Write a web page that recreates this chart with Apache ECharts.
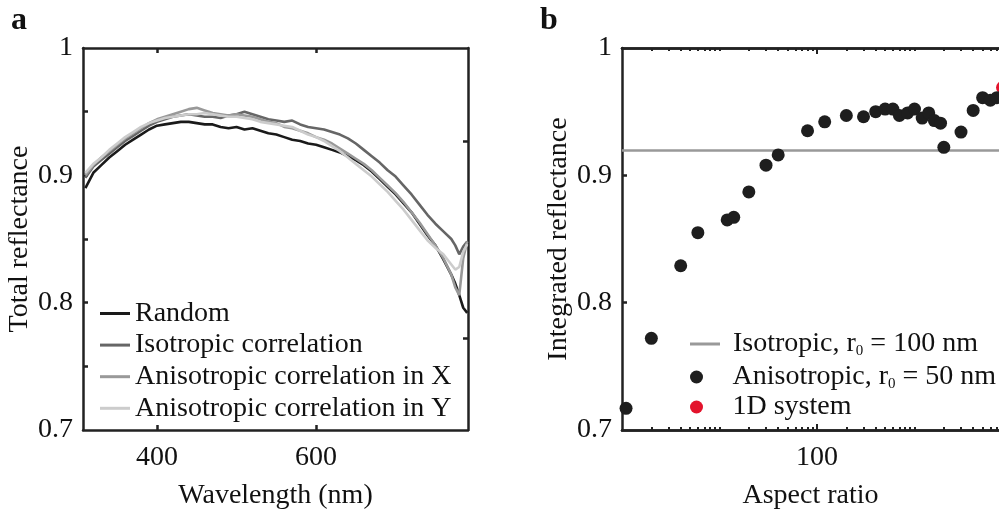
<!DOCTYPE html>
<html><head><meta charset="utf-8">
<script src="https://cdn.jsdelivr.net/npm/echarts@6/dist/echarts.min.js"></script>
<style>html,body{margin:0;padding:0;background:#fff;overflow:hidden;width:999px;height:515px}#c{width:999px;height:515px;overflow:hidden}</style>
</head><body><div id="c"></div>
<script>
// ---------- Panel a data ----------
const wavelengths = [310,320,330,340,350,360,370,380,390,400,410,420,430,440,450,460,470,480,490,500,510,520,530,540,550,560,570,580,590,600,610,620,630,640,650,660,670,680,690,700,710,720,730,740,750,760,770,775,780,785,790];
const randomR = [0.890,0.902,0.908,0.914,0.919,0.924,0.928,0.932,0.936,0.939,0.940,0.941,0.942,0.942,0.941,0.940,0.940,0.938,0.937,0.938,0.936,0.937,0.935,0.933,0.932,0.930,0.928,0.927,0.925,0.924,0.922,0.920,0.918,0.915,0.912,0.908,0.903,0.897,0.891,0.885,0.878,0.871,0.862,0.853,0.845,0.834,0.822,0.815,0.806,0.796,0.792];
const isotropicR = [0.898,0.907,0.912,0.917,0.922,0.927,0.931,0.935,0.939,0.942,0.944,0.946,0.947,0.948,0.947,0.946,0.946,0.945,0.947,0.948,0.950,0.948,0.946,0.944,0.943,0.942,0.943,0.940,0.938,0.937,0.936,0.934,0.932,0.929,0.925,0.920,0.915,0.910,0.904,0.899,0.892,0.885,0.877,0.869,0.862,0.856,0.850,0.845,0.838,0.844,0.848];
const anisoXR = [0.900,0.908,0.914,0.919,0.924,0.929,0.933,0.937,0.941,0.944,0.946,0.948,0.950,0.952,0.953,0.951,0.949,0.948,0.947,0.948,0.947,0.946,0.944,0.942,0.941,0.938,0.937,0.935,0.933,0.930,0.928,0.925,0.921,0.917,0.913,0.909,0.904,0.898,0.892,0.886,0.879,0.871,0.863,0.854,0.845,0.835,0.822,0.812,0.806,0.835,0.848];
const anisoYR = [0.902,0.909,0.914,0.920,0.925,0.930,0.934,0.938,0.941,0.943,0.945,0.946,0.947,0.948,0.948,0.949,0.948,0.947,0.946,0.946,0.945,0.944,0.942,0.941,0.940,0.939,0.938,0.935,0.932,0.930,0.927,0.923,0.919,0.914,0.909,0.904,0.899,0.893,0.887,0.880,0.873,0.865,0.857,0.849,0.843,0.838,0.830,0.826,0.828,0.840,0.846];
const seriesNamesA = ['Random','Isotropic correlation','Anisotropic correlation in X','Anisotropic correlation in Y'];
const waveTicks = [400, 600];
const reflLabels = [0.7, 0.8, 0.9, 1];

// ---------- Panel b data ----------
const aspectRatios = [1.1,2,4,6,12,14,20,30,40,80,120,200,300,400,500,600,700,850,1000,1200,1400,1600,1850,2000,3000,4000,5000,6000,7000];
const integratedR = [0.717,0.772,0.829,0.855,0.865,0.867,0.887,0.908,0.916,0.935,0.942,0.947,0.946,0.950,0.952,0.952,0.947,0.949,0.952,0.945,0.949,0.943,0.941,0.922,0.934,0.951,0.961,0.959,0.961];
const oneDAspect = [8000];
const oneDR = [0.969];
const isotropicLevel = 0.922;
const aspectLabels = [100];
const aspectMajor = [100];
const aspectMinor = [2,3,4,5,6,7,8,9,10,20,30,40,50,60,70,80,90,200,300,400,500,600,700,800,900,1000,2000,3000,4000,5000,6000,7000];
const aspectMin = 1;
const aspectMax = 7360; // visible right edge of panel b (cropped figure)

const FONT = 'Liberation Serif';
const FS = 28;
const AX = '#222';
const txt = {fontFamily: FONT, fontSize: FS, color: '#111'};
const linesColors = ['#1a1a1a', '#666666', '#999999', '#cccccc'];
const fmtR = v => (v === 1 ? '1' : v.toFixed(1));

function lineAxis(extra) {
  return Object.assign({
    axisLine: {show: true, onZero: false, lineStyle: {color: AX, width: 2.5}},
    splitLine: {show: false},
    axisTick: {show: false},
    axisLabel: {show: false}
  }, extra);
}

const chart = echarts.init(document.getElementById('c'), null, {renderer: 'canvas', width: 999, height: 515});
const seriesA = [randomR, isotropicR, anisoXR, anisoYR].map((arr, i) => ({
  name: seriesNamesA[i], type: 'line', xAxisIndex: 0, yAxisIndex: 0,
  data: wavelengths.map((w, k) => [w, arr[k]]),
  showSymbol: false, symbol: 'none', animation: false,
  lineStyle: {color: linesColors[i], width: 2.6}, itemStyle: {color: linesColors[i]}, z: 2 + i
}));

const subRich = {t: {...txt, lineHeight: 30}, s: {fontFamily: FONT, fontSize: 15, color: '#111', verticalAlign: 'bottom', lineHeight: 15}};

const option = {
  animation: false,
  backgroundColor: '#fff',
  grid: [
    {left: 83, top: 48, width: 385, height: 385},
    {left: 622, top: 48, right: 0, height: 385}
  ],
  xAxis: [
    lineAxis({gridIndex: 0, type: 'value', position: 'bottom', min: 307, max: 791,
      axisTick: {show: true, inside: true, length: 5, customValues: waveTicks, lineStyle: {color: AX, width: 2.5}},
      axisLabel: {show: true, customValues: waveTicks, margin: 14, ...txt},
      name: 'Wavelength (nm)', nameLocation: 'middle', nameGap: 52, nameTextStyle: txt}),
    lineAxis({gridIndex: 0, type: 'value', position: 'top', min: 307, max: 791,
      axisTick: {show: true, inside: true, length: 5, customValues: waveTicks, lineStyle: {color: AX, width: 2.5}}}),
    lineAxis({gridIndex: 1, type: 'log', logBase: 10, position: 'bottom', min: aspectMin, max: aspectMax,
      axisTick: {show: true, inside: true, length: 3, customValues: aspectMinor, lineStyle: {color: AX, width: 2}},
      axisLabel: {show: true, customValues: aspectLabels, margin: 14, ...txt},
      name: 'Aspect ratio', nameLocation: 'middle', nameGap: 52, nameTextStyle: txt}),
    lineAxis({gridIndex: 1, type: 'log', logBase: 10, position: 'bottom', min: aspectMin, max: aspectMax,
      axisTick: {show: true, inside: true, length: 6, customValues: aspectMajor, lineStyle: {color: AX, width: 2}}}),
    lineAxis({gridIndex: 1, type: 'log', logBase: 10, position: 'top', min: aspectMin, max: aspectMax,
      axisTick: {show: true, inside: true, length: 3, customValues: aspectMinor, lineStyle: {color: AX, width: 2}}}),
    lineAxis({gridIndex: 1, type: 'log', logBase: 10, position: 'top', min: aspectMin, max: aspectMax,
      axisTick: {show: true, inside: true, length: 6, customValues: aspectMajor, lineStyle: {color: AX, width: 2}}})
  ],
  yAxis: [
    lineAxis({gridIndex: 0, type: 'value', position: 'left', min: 0.7, max: 1,
      axisTick: {show: true, inside: true, length: 5, customValues: [0.75,0.8,0.85,0.9,0.95], lineStyle: {color: AX, width: 2.5}},
      axisLabel: {show: true, customValues: reflLabels, margin: 10, formatter: fmtR, ...txt},
      name: 'Total reflectance', nameLocation: 'middle', nameGap: 45, nameTextStyle: txt}),
    lineAxis({gridIndex: 0, type: 'value', position: 'right', min: 0.7, max: 1,
      axisTick: {show: true, inside: true, length: 5, customValues: [0.772, 0.927], lineStyle: {color: AX, width: 2.5}}}),
    lineAxis({gridIndex: 1, type: 'value', position: 'left', min: 0.7, max: 1,
      axisTick: {show: true, inside: true, length: 5, customValues: [0.8, 0.9], lineStyle: {color: AX, width: 2.5}},
      axisLabel: {show: true, customValues: reflLabels, margin: 10, formatter: fmtR, ...txt},
      name: 'Integrated reflectance', nameLocation: 'middle', nameGap: 49, nameTextStyle: txt})
  ],
  legend: [
    {left: 95, top: 294, orient: 'vertical', data: seriesNamesA, icon: 'rect',
     itemWidth: 30, itemHeight: 3, itemGap: 2.6, selectedMode: false,
     textStyle: {...txt, padding: [0, 0, 0, 0], lineHeight: 29}},
    {left: 685, top: 325, orient: 'vertical', data: ['iso'], icon: 'rect',
     itemWidth: 30, itemHeight: 3, selectedMode: false,
     formatter: () => '{t|Isotropic, r}{s|0}{t| = 100 nm}',
     textStyle: {...txt, padding: [0, 0, 0, 8], rich: subRich}},
    {left: 685, top: 358, orient: 'vertical', data: ['aniso', 'oneD'], icon: 'circle',
     itemWidth: 30, itemHeight: 13, itemGap: 1, selectedMode: false,
     formatter: n => n === 'aniso' ? '{t|Anisotropic, r}{s|0}{t| = 50 nm}' : '{t|1D system}',
     textStyle: {...txt, padding: [0, 0, 0, 16], rich: subRich}}
  ],
  series: seriesA.concat([
    {name: 'iso', type: 'line', xAxisIndex: 2, yAxisIndex: 2, data: [], symbol: 'none',
     itemStyle: {color: '#999'}, lineStyle: {color: '#999', width: 2.6},
     markLine: {silent: true, symbol: 'none', label: {show: false}, animation: false,
       lineStyle: {color: '#999', width: 2.6, type: 'solid'}, data: [{yAxis: isotropicLevel}]}},
    {name: 'aniso', type: 'scatter', xAxisIndex: 2, yAxisIndex: 2, symbolSize: 13, clip: false,
     itemStyle: {color: '#1e1e1e', opacity: 1}, data: aspectRatios.map((a, k) => [a, integratedR[k]]), z: 5},
    {name: 'oneD', type: 'scatter', xAxisIndex: 2, yAxisIndex: 2, symbolSize: 13, clip: false,
     itemStyle: {color: '#e3132c', opacity: 1}, data: oneDAspect.map((a, k) => [a, oneDR[k]]), z: 4}
  ]),
  graphic: [
    {type: 'text', left: 11, top: 5, style: {text: 'a', fontFamily: FONT, fontWeight: 'bold', fontSize: 32, fill: '#111'}},
    {type: 'text', left: 540, top: 5, style: {text: 'b', fontFamily: FONT, fontWeight: 'bold', fontSize: 32, fill: '#111'}}
  ]
};
chart.setOption(option);
</script>
</body></html>
